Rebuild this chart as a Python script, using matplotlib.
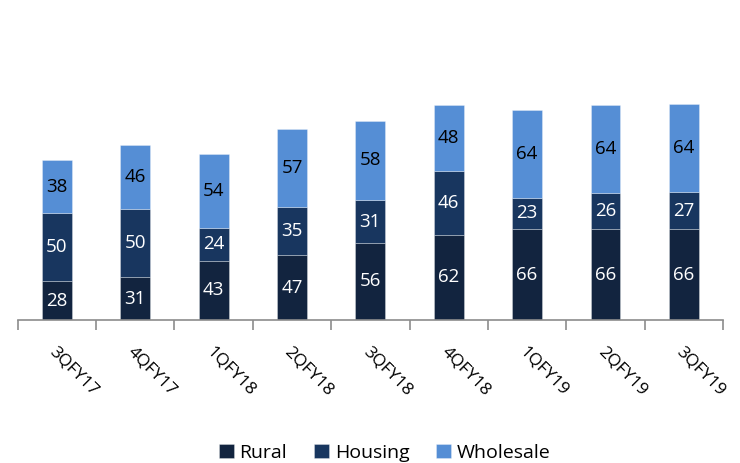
import matplotlib.pyplot as plt
import numpy as np

quarters = ["3QFY17", "4QFY17", "1QFY18", "2QFY18", "3QFY18",
            "4QFY18", "1QFY19", "2QFY19", "3QFY19"]
rural = [28, 31, 43, 47, 56, 62, 66, 66, 66]
housing = [50, 50, 24, 35, 31, 46, 23, 26, 27]
wholesale = [38, 46, 54, 57, 58, 48, 64, 64, 64]

plt.rcParams['font.family'] = ['Open Sans', 'DejaVu Sans']

fig = plt.figure(figsize=(7.4, 4.63), dpi=100)
ax = fig.add_axes([0.024, 0.309, 0.953, 0.594])

x = np.arange(len(quarters))
w = 0.38
series = [("Rural", rural, "#12243F", "white"),
          ("Housing", housing, "#18365F", "white"),
          ("Wholesale", wholesale, "#558ED5", "black")]
bottom = np.zeros(len(quarters))
for name, vals, col, tc in series:
    vals = np.array(vals)
    ax.bar(x, vals, w, bottom=bottom, color=col, label=name,
           edgecolor=(1, 1, 1, 0.35), linewidth=0.6)
    for xi, b, v in zip(x, bottom, vals):
        ax.text(xi, b + v / 2, str(v), ha='center', va='center',
                color=tc, fontsize=13.5)
    bottom += vals

ax.set_xlim(-0.5, len(quarters) - 0.5)
ax.set_ylim(0, 200)
ax.set_yticks([])
for s in ['top', 'right', 'left']:
    ax.spines[s].set_visible(False)
ax.spines['bottom'].set_color('#8C8C8C')
ax.spines['bottom'].set_linewidth(1.2)

# ticks sit between categories, labels at the bar centres
ax.set_xticks(np.arange(len(quarters) + 1) - 0.5)
ax.set_xticklabels([])
ax.tick_params(axis='x', length=7, width=1.2, color='#8C8C8C', direction='out')
for xi, q in zip(x, quarters):
    ax.text(xi + 0.01, -17, q, rotation=-45, ha='left', va='top',
            rotation_mode='anchor', fontsize=12.5, transform=ax.transData)

fig.legend(loc='lower center', bbox_to_anchor=(0.52, -0.035), ncol=3,
           frameon=False, fontsize=14, handlelength=0.75, handleheight=0.75,
           handletextpad=0.3, columnspacing=1.4)

fig.savefig("out.png", dpi=100)
